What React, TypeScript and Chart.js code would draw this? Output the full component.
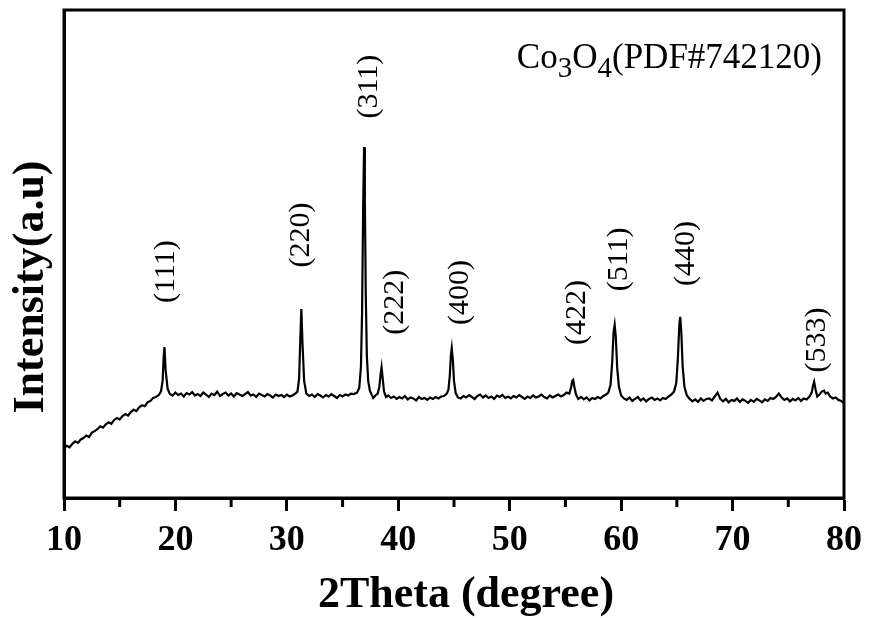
import React, { useEffect, useRef } from "react";
import { Chart, registerables } from "chart.js";

Chart.register(...registerables);

// 2θ positions (degree)
const twoTheta: number[] = [
  10, 10.25, 10.5, 10.75, 11, 11.25, 11.5, 11.75, 12, 12.25,
  12.5, 12.75, 13, 13.25, 13.5, 13.75, 14, 14.25, 14.5, 14.75,
  15, 15.25, 15.5, 15.75, 16, 16.25, 16.5, 16.75, 17, 17.25,
  17.5, 17.75, 18, 18.25, 18.5,
  18.7, 18.85, 18.95, 19.02, 19.12, 19.3, 19.5,
  19.75, 20, 20.25, 20.5, 20.75,
  21, 21.25, 21.5, 21.75, 22,
  22.25, 22.5, 22.75, 23, 23.25,
  23.5, 23.75, 24, 24.25, 24.5,
  24.75, 25, 25.25, 25.5, 25.75,
  26, 26.25, 26.5, 26.75, 27,
  27.25, 27.5, 27.75, 28, 28.25,
  28.5, 28.75, 29, 29.25, 29.5,
  29.75, 30, 30.25, 30.5, 30.75,
  30.95, 31.1, 31.2, 31.3, 31.4, 31.55, 31.75,
  32, 32.25, 32.5, 32.75, 33, 33.25, 33.5, 33.75, 34, 34.25,
  34.5, 34.75, 35, 35.25, 35.5, 35.75, 36,
  36.3, 36.5, 36.65, 36.75, 36.85, 36.93, 37.0, 37.08, 37.18, 37.3, 37.45, 37.6,
  37.75, 37.95, 38.15, 38.3, 38.42, 38.5, 38.6, 38.72, 38.9,
  39.1, 39.35, 39.6, 39.85, 40.1, 40.35, 40.6, 40.85, 41.1, 41.35,
  41.6, 41.85, 42.1, 42.35, 42.6, 42.85, 43.1, 43.35, 43.6, 43.85,
  44.1, 44.35,
  44.5, 44.62, 44.72, 44.8, 44.9, 45.0, 45.15, 45.35,
  45.6, 45.85, 46.1, 46.35, 46.6,
  46.85, 47.1, 47.35, 47.6, 47.85,
  48.1, 48.35, 48.6, 48.85, 49.1,
  49.35, 49.6, 49.85, 50.1, 50.35,
  50.6, 50.85, 51.1, 51.35, 51.6,
  51.85, 52.1, 52.35, 52.6, 52.85,
  53.1, 53.35, 53.6, 53.85, 54.1,
  54.35, 54.6, 54.85, 55.1,
  55.35, 55.5, 55.62, 55.7, 55.8, 55.95, 56.15,
  56.4, 56.65, 56.9, 57.15, 57.4, 57.65, 57.9, 58.15, 58.4, 58.65,
  58.85, 59.05, 59.2, 59.32, 59.42, 59.52, 59.65, 59.8, 60.0,
  60.25, 60.5, 60.75, 61, 61.25, 61.5, 61.75, 62, 62.25, 62.5,
  62.75, 63, 63.25, 63.5, 63.75, 64, 64.25, 64.5,
  64.75, 64.95, 65.1, 65.22, 65.3, 65.4, 65.52, 65.68, 65.9,
  66.15, 66.4, 66.65, 66.9, 67.15,
  67.4, 67.65, 67.9, 68.15, 68.4,
  68.65, 68.9, 69.15, 69.4, 69.65,
  69.9, 70.15, 70.4, 70.65, 70.9,
  71.15, 71.4, 71.65, 71.9, 72.15,
  72.4, 72.65, 72.9, 73.15, 73.4,
  73.65,
  73.9, 74.15, 74.4,
  74.65, 74.9, 75.15, 75.4, 75.65, 75.9, 76.15, 76.4, 76.65, 76.9,
  77.1, 77.22, 77.32, 77.45, 77.6, 77.8, 78.0, 78.2, 78.35, 78.55,
  78.75, 79.0, 79.25, 79.5, 79.75, 80.0,
];

// Intensity (a.u.)
const intensity: number[] = [
  102, 107, 104, 111, 116, 113, 120, 123, 128, 125,
  134, 137, 141, 147, 144, 151, 155, 152, 160, 164,
  161, 168, 172, 169, 176, 181, 178, 186, 190, 188,
  196, 199, 205, 207, 211,
  218, 240, 292, 309, 262, 224, 213,
  210, 216, 211, 214, 208,
  215, 212, 217, 210, 213,
  209, 216, 212, 207, 214,
  211, 218, 209, 213, 216,
  210, 214, 208, 215, 212,
  209, 213, 217, 210, 212,
  207, 214, 211, 208, 213,
  210, 206, 212, 209, 211,
  207, 212, 208, 210, 214,
  218, 245, 320, 387, 318, 240, 214,
  209, 212, 207, 213, 210, 206, 211, 208, 213, 209,
  205, 211, 208, 212, 210, 214, 213,
  216, 226, 270, 380, 600, 719, 610, 420, 290, 240, 220, 212,
  205, 210, 214, 228, 255, 268, 245, 218, 207,
  210, 205, 208, 203, 207, 204, 209, 202, 206, 204,
  200, 207, 203, 205, 201, 206, 203, 207, 204, 208,
  209, 214,
  222, 250, 292, 307, 282, 240, 215, 206,
  204, 209, 206, 211, 207,
  203, 209, 212, 206, 210,
  205, 208, 203, 210, 207,
  211, 205, 208, 204, 209,
  206, 211, 207, 203, 208,
  205, 210, 206, 208, 212,
  207, 204, 210, 206, 209,
  212, 208, 211, 216,
  214, 226, 240, 242, 228, 212, 203,
  207, 202, 206, 200, 205, 203, 207, 204, 209, 212,
  216, 232, 280, 340, 355, 330, 265, 228, 210,
  204, 201, 206, 199, 203, 207, 200, 204, 198, 203,
  206, 201, 204, 200, 205, 203, 208, 212,
  218, 236, 290, 355, 371, 340, 270, 228, 210,
  203, 198, 202, 197, 204,
  199, 203, 204, 200, 208,
  216, 203, 198, 203, 196,
  201, 199, 204, 197, 202,
  199, 195, 201, 197, 203,
  200, 196, 202, 199, 205,
  203,
  207, 214, 206,
  201, 204, 198, 203, 200, 205, 199, 204, 202, 208,
  216, 230, 238, 222, 208, 212, 218, 220, 214, 216,
  208, 204, 206, 201, 199, 194,
];

const xTickValues = [10, 20, 30, 40, 50, 60, 70, 80];
const minorTickValues = [15, 25, 35, 45, 55, 65, 75];

// Miller-index labels and their anchor positions (2θ, intensity)
const peakLabels = ["(111)", "(220)", "(311)", "(222)", "(400)", "(422)", "(511)", "(440)", "(533)"];
const peakLabelTheta = [19.13, 31.3, 37.39, 39.72, 45.54, 56.01, 59.86, 65.86, 77.59];
const peakLabelIntensity = [464, 539, 843, 401, 421, 380, 489, 501, 324];

const xTitle = "2Theta (degree)";
const yTitle = "Intensity(a.u)";

const SERIF = '"Liberation Serif", "Times New Roman", serif';

const decorPlugin = {
  id: "decor",
  afterDraw(chart: any) {
    const { ctx, chartArea: a, scales } = chart;
    const xs = scales.x;
    const ys = scales.y;
    ctx.save();
    ctx.strokeStyle = "#000";
    ctx.lineWidth = 3;
    ctx.strokeRect(a.left, a.top, a.right - a.left, a.bottom - a.top);

    // minor ticks
    minorTickValues.forEach((v) => {
      const px = xs.getPixelForValue(v);
      ctx.beginPath();
      ctx.moveTo(px, a.bottom);
      ctx.lineTo(px, a.bottom + 9);
      ctx.stroke();
    });

    // peak labels
    ctx.fillStyle = "#000";
    ctx.font = `30px ${SERIF}`;
    ctx.textAlign = "center";
    ctx.textBaseline = "middle";
    peakLabels.forEach((t, i) => {
      ctx.save();
      ctx.translate(xs.getPixelForValue(peakLabelTheta[i]), ys.getPixelForValue(peakLabelIntensity[i]));
      ctx.rotate(-Math.PI / 2);
      ctx.fillText(t, 0, 0);
      ctx.restore();
    });

    // compound label Co3O4(PDF#742120)
    const parts: [string, boolean][] = [
      ["Co", false], ["3", true], ["O", false], ["4", true], ["(PDF#742120)", false],
    ];
    const mainFont = `35px ${SERIF}`;
    const subFont = `29px ${SERIF}`;
    let total = 0;
    parts.forEach(([t, sub]) => {
      ctx.font = sub ? subFont : mainFont;
      total += ctx.measureText(t).width;
    });
    let cx = a.right - 22 - total;
    const base = a.top + 58;
    ctx.textAlign = "left";
    ctx.textBaseline = "alphabetic";
    parts.forEach(([t, sub]) => {
      ctx.font = sub ? subFont : mainFont;
      ctx.fillText(t, cx, sub ? base + 9 : base);
      cx += ctx.measureText(t).width;
    });

    // axis titles
    ctx.font = `bold 44px ${SERIF}`;
    ctx.textAlign = "center";
    ctx.textBaseline = "alphabetic";
    ctx.fillText(xTitle, (a.left + a.right) / 2 + 12, a.bottom + 109);
    ctx.save();
    ctx.translate(a.left - 32, (a.top + a.bottom) / 2 + 33);
    ctx.rotate(-Math.PI / 2);
    ctx.textBaseline = "middle";
    ctx.fillText(yTitle, 0, 0);
    ctx.restore();

    ctx.restore();
  },
};

export default function App() {
  const canvasRef = useRef<HTMLCanvasElement | null>(null);

  useEffect(() => {
    if (!canvasRef.current) return;
    const points = twoTheta.map((x, i) => ({ x, y: intensity[i] }));
    const chart = new Chart(canvasRef.current, {
      type: "line",
      data: {
        datasets: [
          {
            data: points,
            borderColor: "#000",
            borderWidth: 2.2,
            pointRadius: 0,
            tension: 0,
            fill: false,
          },
        ],
      },
      options: {
        responsive: true,
        maintainAspectRatio: false,
        animation: false,
        layout: { padding: { top: 10, right: 25, left: 0, bottom: 0 } },
        plugins: { legend: { display: false }, tooltip: { enabled: false } },
        scales: {
          x: {
            type: "linear",
            min: 10,
            max: 80,
            afterFit: (s: any) => {
              s.height = 120;
            },
            afterBuildTicks: (s: any) => {
              s.ticks = xTickValues.map((v) => ({ value: v }));
            },
            ticks: {
              color: "#000",
              font: { family: SERIF, size: 36, weight: "bold" },
              padding: 8,
              maxRotation: 0,
              autoSkip: false,
            },
            grid: {
              drawOnChartArea: false,
              drawTicks: true,
              tickLength: 13,
              tickWidth: 3,
              tickColor: "#000",
            },
            border: { display: true, color: "#000", width: 3 },
          },
          y: {
            min: 0,
            max: 1000,
            afterFit: (s: any) => {
              s.width = 64;
            },
            ticks: { display: false },
            grid: { display: false },
            border: { display: true, color: "#000", width: 3 },
          },
        },
      },
      plugins: [decorPlugin],
    });
    return () => chart.destroy();
  }, []);

  return (
    <div style={{ position: "fixed", left: 0, top: 0, width: 870, height: 618, background: "#fff" }}>
      <canvas ref={canvasRef} />
    </div>
  );
}
